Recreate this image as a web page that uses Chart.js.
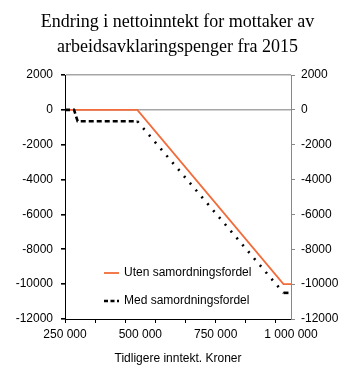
<!DOCTYPE html>
<html>
<head>
<meta charset="utf-8">
<script src="https://cdn.jsdelivr.net/npm/chart.js@4"></script>
<style>
  html, body { margin: 0; padding: 0; background: #fff; }
  #wrap { width: 355px; height: 376px; position: relative; }
</style>
</head>
<body>
<div id="wrap"><canvas id="c" width="355" height="376"></canvas></div>
<script>
const titleLines = ["Endring i nettoinntekt for mottaker av", "arbeidsavklaringspenger fra 2015"];
const xAxisTitle = "Tidligere inntekt. Kroner";
const seriesNames = ["Uten samordningsfordel", "Med samordningsfordel"];
const utenX = [250000, 490000, 975000, 1000000];
const utenY = [0, 0, -10000, -10000];
const medX = [250000, 280000, 292000, 490000, 975000, 1000000];
const medY = [0, 0, -650, -650, -10500, -10500];
const xLabelValues = [250000, 500000, 750000, 1000000];
const yTickValues = [2000, 0, -2000, -4000, -6000, -8000, -10000, -12000];

function fmtKr(v) { return String(v).replace(/\B(?=(\d{3})+(?!\d))/g, " "); }

const legendPlugin = {
  id: 'inlineLegend',
  afterDatasetsDraw(chart) {
    const ctx = chart.ctx;
    const items = [
      { text: seriesNames[0], color: '#F26B3A', dash: [], y: 273 },
      { text: seriesNames[1], color: '#000', dash: [4, 2.5], y: 301 }
    ];
    ctx.save();
    items.forEach((it, i) => {
      ctx.beginPath();
      ctx.setLineDash(it.dash);
      ctx.strokeStyle = it.color;
      ctx.lineWidth = i === 0 ? 1.8 : 2.4;
      ctx.moveTo(104, it.y);
      ctx.lineTo(119, it.y);
      ctx.stroke();
      ctx.setLineDash([]);
      ctx.fillStyle = '#000';
      ctx.font = '12px "Liberation Sans", Arial, sans-serif';
      ctx.textBaseline = 'middle';
      ctx.textAlign = 'left';
      ctx.fillText(it.text, 124, it.y);
    });
    ctx.restore();
  }
};

const tickFont = { family: '"Liberation Sans", Arial, sans-serif', size: 12 };

new Chart(document.getElementById('c'), {
  type: 'line',
  data: {
    datasets: [
      {
        label: seriesNames[0],
        data: utenX.map((x, i) => ({ x, y: utenY[i] })),
        borderColor: '#F26B3A',
        borderWidth: 1.8,
        pointRadius: 0,
        tension: 0,
        order: 2
      },
      {
        label: seriesNames[1],
        data: medX.map((x, i) => ({ x, y: medY[i] })),
        borderColor: '#000',
        borderWidth: 2.6,
        borderDash: [5, 3],
        pointRadius: 0,
        tension: 0,
        order: 1,
        segment: {
          borderDash: ctx => (ctx.p0.parsed.y !== ctx.p1.parsed.y && Math.abs(ctx.p1.parsed.x - ctx.p0.parsed.x) > 100000) ? [2, 7] : [5, 3]
        }
      }
    ]
  },
  options: {
    responsive: false,
    animation: false,
    layout: { padding: { left: 0, right: 0, top: 0, bottom: 0 } },
    plugins: {
      legend: { display: false },
      tooltip: { enabled: false },
      title: {
        display: true,
        text: titleLines,
        color: '#000',
        font: { family: '"Liberation Serif", "Times New Roman", serif', size: 18, weight: 'normal', lineHeight: 1.39 },
        padding: { top: 10, bottom: 15 }
      }
    },
    scales: {
      x: {
        type: 'linear',
        min: 250000,
        max: 1000000,
        afterBuildTicks: s => {
          const t = [];
          for (let v = 250000; v <= 1000000; v += 50000) t.push({ value: v });
          s.ticks = t;
        },
        ticks: {
          autoSkip: false,
          maxRotation: 0,
          color: '#000',
          font: tickFont,
          padding: 4,
          callback: v => xLabelValues.includes(v) ? fmtKr(v) : ''
        },
        grid: {
          drawOnChartArea: false,
          drawTicks: true,
          tickLength: 4,
          tickColor: c => (c.tick && (c.tick.value - 250000) % 100000 === 0) ? '#000' : 'rgba(0,0,0,0)',
          tickWidth: 1
        },
        border: { display: true, color: '#000', width: 1 },
        title: {
          display: true,
          text: xAxisTitle,
          color: '#000',
          font: tickFont,
          padding: { top: 10, bottom: 10 }
        },
        afterFit: s => { s.height = 57; }
      },
      y: {
        position: 'left',
        min: -12000,
        max: 2000,
        afterBuildTicks: s => { s.ticks = yTickValues.map(v => ({ value: v })); },
        ticks: { color: '#000', font: tickFont, padding: 8, autoSkip: false, callback: v => String(v) },
        grid: {
          color: c => (c.tick && (c.tick.value === 2000 || c.tick.value === 0)) ? '#a6a6a6' : 'rgba(0,0,0,0)',
          lineWidth: 1.6,
          drawTicks: true,
          tickLength: 4,
          tickColor: '#000'
        },
        border: { display: true, color: '#000', width: 1 },
        afterFit: s => { s.width = 65; }
      },
      y2: {
        position: 'right',
        min: -12000,
        max: 2000,
        afterBuildTicks: s => { s.ticks = yTickValues.map(v => ({ value: v })); },
        ticks: { color: '#000', font: tickFont, padding: 6, autoSkip: false, callback: v => String(v) },
        grid: {
          drawOnChartArea: false,
          drawTicks: true,
          tickLength: 4,
          tickColor: '#888'
        },
        border: { display: true, color: '#888', width: 1 },
        afterFit: s => { s.width = 64; }
      }
    }
  },
  plugins: [legendPlugin]
});
</script>
</body>
</html>
